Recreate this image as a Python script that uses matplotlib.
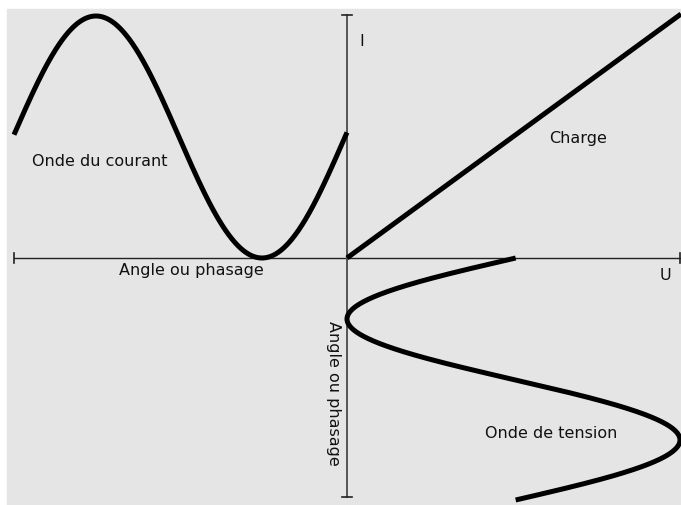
import numpy as np
import matplotlib.pyplot as plt
from matplotlib.patches import Rectangle

# diagram units: origin where the U and I axes cross, y up
# current wave (left half): sine
courant_peak_x = -251      # position of the crest
courant_trough_x = -85     # position of the trough
courant_top = 242
courant_bottom = 0
courant_range = [-333, 0]

# voltage wave (lower half), runs along the vertical axis
tension_left_y = -61       # where the wave touches the I axis
tension_right_y = -182     # where it reaches furthest right
tension_left = 0
tension_right = 333
tension_range = [0, -242]

# load line
charge_x = [0, 334]
charge_y = [0, 244]

# axes extents
u_axis = [-333, 333]
i_axis = [-239, 243]

labels = {
    "Onde du courant": (-247, 96),
    "Angle ou phasage": (-156, -12),
    "Charge": (231, 119),
    "I": (15, 216),
    "U": (318, -17),
    "Onde de tension": (204, -176),
}
vert_label = ("Angle ou phasage", -14, -135)


fig = plt.figure(figsize=(6.81, 5.05), dpi=100)
ax = fig.add_axes([0, 0, 1, 1])
ax.set_xlim(-347, 334)
ax.set_ylim(-247, 258)
ax.axis('off')

ax.add_patch(Rectangle((-340, -247), 674, 496, color='#e5e5e5', zorder=0))

# axes with end ticks
ax.plot(u_axis, [0, 0], color='#222222', lw=1.0, zorder=1)
ax.plot([0, 0], i_axis, color='#555555', lw=1.4, zorder=1)
for x in u_axis:
    ax.plot([x, x], [-5, 5], color='#222222', lw=1.2)
for y in i_axis:
    ax.plot([-5, 5], [y, y], color='#222222', lw=1.2)

# current wave
half = courant_trough_x - courant_peak_x
mid = (courant_top + courant_bottom) / 2
amp = (courant_top - courant_bottom) / 2
xc = np.linspace(courant_range[0], courant_range[1], 400)
yc = mid + amp * np.cos(np.pi * (xc - courant_peak_x) / half)
ax.plot(xc, yc, color='black', lw=3.6, solid_capstyle='butt', zorder=3)

# voltage wave
half_t = tension_left_y - tension_right_y
mid_t = (tension_left + tension_right) / 2
amp_t = (tension_right - tension_left) / 2
yt = np.linspace(tension_range[0], tension_range[1], 400)
xt = mid_t - amp_t * np.cos(np.pi * (yt - tension_left_y) / half_t)
ax.plot(xt, yt, color='black', lw=3.6, solid_capstyle='butt', zorder=3)

# load line
ax.plot(charge_x, charge_y, color='black', lw=3.6, solid_capstyle='butt', zorder=3)

for txt, (x, y) in labels.items():
    ax.text(x, y, txt, ha='center', va='center', fontsize=11.5, color='#111111')
ax.text(vert_label[1], vert_label[2], vert_label[0], ha='center', va='center',
        rotation=-90, fontsize=11.5, color='#111111')

fig.savefig('out.png', dpi=100)
